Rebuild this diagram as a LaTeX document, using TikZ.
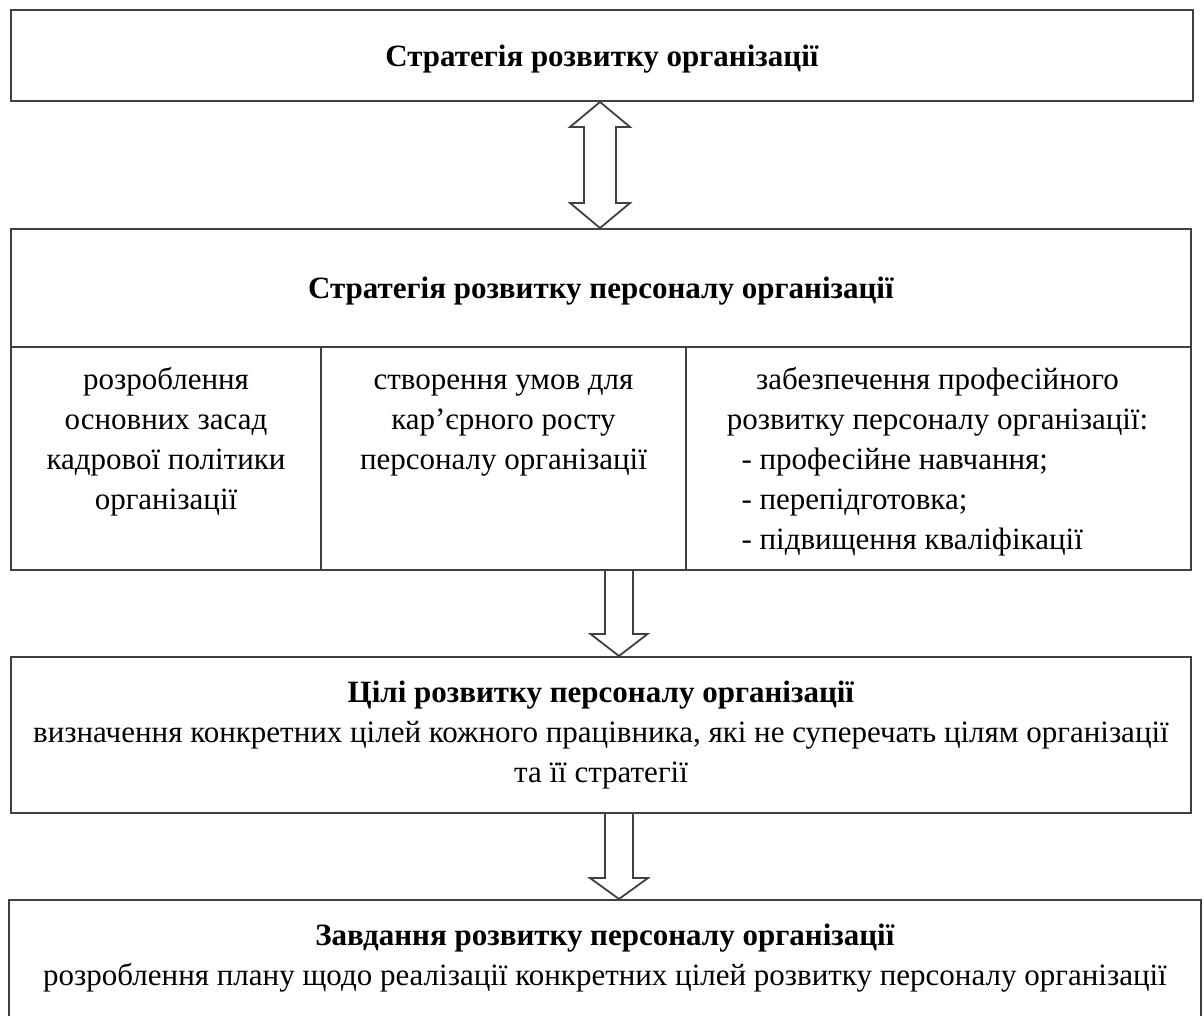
\documentclass[tikz,border=0pt]{standalone}
\usepackage{fontspec}
\setmainfont{Liberation Serif}
\usetikzlibrary{calc,positioning}

\tikzset{
  box/.style={draw=black!75, line width=1pt, rectangle, inner sep=0pt},
  boxtext/.style={align=center, inner sep=0pt, font=\fontsize{15.5}{20}\selectfont},
  blockarrow/.style={draw=black!75, line width=0.9pt, fill=white, line join=miter}
}

\begin{document}
\begin{tikzpicture}[x=0.5pt, y=-0.5pt]
\useasboundingbox (0,0) rectangle (1204,1016);

% Top level
\node[box, boxtext, text depth=0pt, minimum width=591pt, minimum height=45.5pt] (top) at (602,55.5)
  {\textbf{Стратегія розвитку організації}};

% Personnel strategy
\node[box, boxtext, text depth=0pt, minimum width=590pt, minimum height=59pt] (pers) at (601,288)
  {\textbf{Стратегія розвитку персоналу організації}};

% Three columns
\node[box, minimum width=155pt, minimum height=111.5pt] (colA) at (166,458.5) {};
\node[box, minimum width=182.5pt, minimum height=111.5pt] (colB) at (503.5,458.5) {};
\node[box, minimum width=252.5pt, minimum height=111.5pt] (colC) at (938.5,458.5) {};

\node[boxtext, anchor=north] (colAtxt) at ($(colA.north)+(0,15)$)
  {\strut розроблення\\основних засад\\кадрової політики\\організації};
\node[boxtext, anchor=north] (colBtxt) at ($(colB.north)+(0,15)$)
  {\strut створення умов для\\кар’єрного росту\\персоналу організації};
\node[boxtext, anchor=north] (colCtxt) at ($(colC.north)+(-1,15)$)
  {\strut забезпечення професійного\\розвитку персоналу організації:\\
   \makebox[196pt][l]{- професійне навчання;}\\
   \makebox[196pt][l]{- перепідготовка;}\\
   \makebox[196pt][l]{- підвищення кваліфікації}};

% Goals
\node[box, boxtext, minimum width=590pt, minimum height=78pt] (goals) at (601,735)
  {\textbf{Цілі розвитку персоналу організації}\\
   визначення конкретних цілей кожного працівника, які не суперечать цілям організації\\
   та її стратегії};

% Tasks (cut off at the bottom)
\node[box, minimum width=596pt, minimum height=70pt] (task) at (605,970) {};
\node[boxtext] (tasktxt) at (605,958)
  {\textbf{Завдання розвитку персоналу організації}\\
   розроблення плану щодо реалізації конкретних цілей розвитку персоналу організації};

% Arrows
\coordinate (ax) at (600,0);
\coordinate (bx) at (619,0);
\draw[blockarrow] (top.south -| ax) -- ++(30,25) -- ++(-14,0)
  -- ($(pers.north -| ax)+(16,-25)$) -- ++(14,0) -- (pers.north -| ax)
  -- ++(-30,-25) -- ++(14,0) -- ($(top.south -| ax)+(-16,25)$) -- ++(-14,0) -- cycle;
\draw[blockarrow] ($(colB.south -| bx)+(-14,0)$) -- ($(goals.north -| bx)+(-14,-22)$)
  -- ++(-14.5,0) -- (goals.north -| bx) -- ++(28.5,-22) -- ++(-14.5,0)
  -- ($(colB.south -| bx)+(14,0)$);
\draw[blockarrow] ($(goals.south -| bx)+(-14,0)$) -- ($(task.north -| bx)+(-14,-21)$)
  -- ++(-15,0) -- (task.north -| bx) -- ++(29,-21) -- ++(-15,0)
  -- ($(goals.south -| bx)+(14,0)$);
\end{tikzpicture}
\end{document}
